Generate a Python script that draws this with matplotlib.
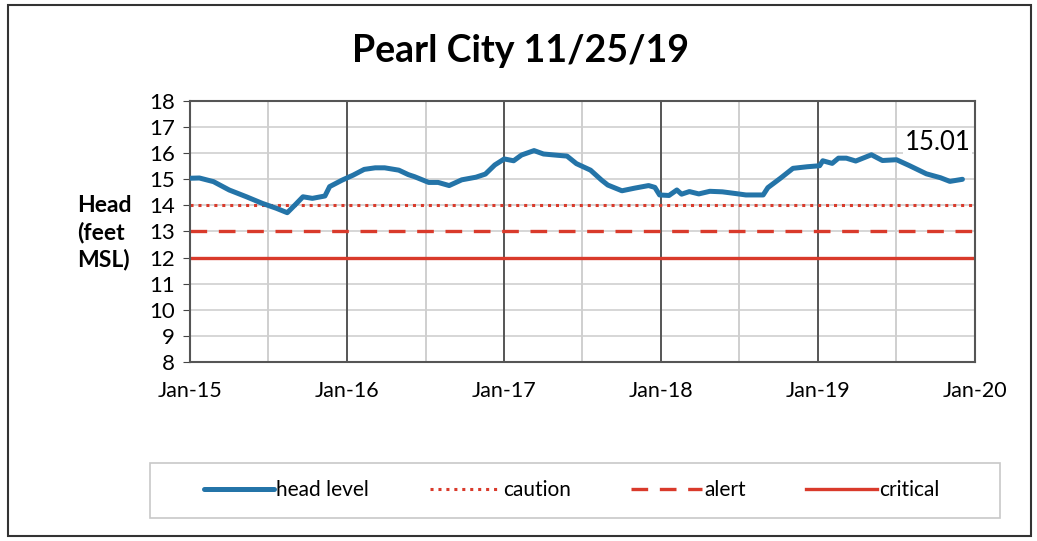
import matplotlib
matplotlib.use("Agg")
import matplotlib.pyplot as plt
from matplotlib.patches import Rectangle
import datetime as dt

plt.rcParams['font.family'] = ['Lato', 'DejaVu Sans']

# decimal-year positions and head level readings (feet MSL)
years = [2015.00, 2015.06, 2015.15, 2015.25, 2015.36, 2015.46, 2015.55, 2015.62, 2015.67,
         2015.72, 2015.78, 2015.86, 2015.89, 2015.97, 2016.04, 2016.11, 2016.18, 2016.24,
         2016.33, 2016.39, 2016.43, 2016.52, 2016.58, 2016.65, 2016.73, 2016.82, 2016.88,
         2016.94, 2017.00, 2017.06, 2017.11, 2017.19, 2017.25, 2017.34, 2017.40, 2017.46,
         2017.55, 2017.62, 2017.66, 2017.75, 2017.83, 2017.92, 2017.96, 2017.99, 2018.05,
         2018.10, 2018.13, 2018.18, 2018.24, 2018.31, 2018.39, 2018.48, 2018.54, 2018.65,
         2018.68, 2018.76, 2018.84, 2018.93, 2019.01, 2019.03, 2019.09, 2019.13, 2019.18,
         2019.24, 2019.34, 2019.41, 2019.50, 2019.58, 2019.69, 2019.78, 2019.84, 2019.92]
head = [15.04, 15.05, 14.91, 14.59, 14.33, 14.08, 13.89, 13.72, 14.02,
        14.33, 14.27, 14.36, 14.72, 14.97, 15.16, 15.38, 15.44, 15.44,
        15.35, 15.18, 15.10, 14.88, 14.88, 14.76, 14.98, 15.08, 15.20,
        15.55, 15.78, 15.71, 15.93, 16.10, 15.97, 15.92, 15.89, 15.60,
        15.35, 14.97, 14.78, 14.56, 14.66, 14.76, 14.69, 14.40, 14.38,
        14.59, 14.43, 14.53, 14.44, 14.54, 14.52, 14.45, 14.40, 14.40,
        14.68, 15.04, 15.42, 15.48, 15.52, 15.71, 15.61, 15.81, 15.81,
        15.70, 15.94, 15.72, 15.75, 15.53, 15.21, 15.06, 14.92, 15.00]

caution_level = 14
alert_level = 13
critical_level = 12
last_label = "15.01"

y_ticks = list(range(8, 19))
x_tick_years = [2015, 2016, 2017, 2018, 2019, 2020]
x_tick_labels = ["Jan-15", "Jan-16", "Jan-17", "Jan-18", "Jan-19", "Jan-20"]


def to_date(y):
    yr = int(y)
    start = dt.datetime(yr, 1, 1)
    return start + (dt.datetime(yr + 1, 1, 1) - start) * (y - yr)


dates = [to_date(y) for y in years]
x0, x1 = dt.datetime(2015, 1, 1), dt.datetime(2020, 1, 1)

fig = plt.figure(figsize=(10.37, 5.41), dpi=100)
ax = fig.add_axes([0.1832, 0.3309, 0.7570, 0.4824])

blue = "#2474A8"
red = "#D93A2B"

# grid
for yv in y_ticks:
    ax.axhline(yv, color="#CFCFCF", lw=1.2, zorder=0)
for y in x_tick_years:
    ax.axvline(to_date(y), color="#555555", lw=1.4, zorder=0)
    if y < 2020:
        ax.axvline(dt.datetime(y, 7, 2), color="#CFCFCF", lw=1.4, zorder=0)

ax.plot(dates, head, color=blue, lw=3.6, label="head level", solid_capstyle="round", zorder=3)
ax.plot([x0, x1], [caution_level] * 2, color=red, lw=2.2, ls=(0, (1, 1.6)), label="caution", zorder=2)
ax.plot([x0, x1], [alert_level] * 2, color=red, lw=2.4, ls=(0, (5, 3.5)), label="alert", zorder=2)
ax.plot([x0, x1], [critical_level] * 2, color=red, lw=2.4, label="critical", zorder=2)

ax.set_xlim(x0, x1)
ax.set_ylim(8, 18)
ax.set_yticks(y_ticks)
ax.set_xticks([to_date(y) for y in x_tick_years])
ax.set_xticklabels(x_tick_labels)
ax.tick_params(axis="y", labelsize=16, length=5, color="#444444", pad=6)
ax.tick_params(axis="x", labelsize=15.5, length=0, pad=14)
for s in ax.spines.values():
    s.set_color("#555555")
    s.set_linewidth(1.5)

ax.text(to_date(2019.55), 16.4, last_label, fontsize=18.5, ha="left", va="center",
        bbox=dict(facecolor="white", edgecolor="none", pad=1), zorder=5)

fig.text(0.502, 0.905, "Pearl City 11/25/19", fontsize=27, fontweight="bold",
         ha="center", va="center")
fig.text(0.074, 0.57, "Head\n(feet\nMSL)", fontsize=16.5, fontweight="bold",
         ha="left", va="center", linespacing=1.3)

# legend box
fig.patches.append(Rectangle((0.1447, 0.042), 0.8197, 0.103, transform=fig.transFigure,
                             facecolor="white", edgecolor="#C8C8C8", lw=1.2))
leg = fig.legend(loc="center", bbox_to_anchor=(0.551, 0.094),
                 ncol=4, fontsize=15, frameon=False,
                 handlelength=3.4, handletextpad=0.1, columnspacing=2.9)

fig.patches.append(Rectangle((0.008, 0.01), 0.986, 0.98, transform=fig.transFigure,
                             fill=False, edgecolor="#333333", lw=1.5))

fig.savefig("out.png", dpi=100)
